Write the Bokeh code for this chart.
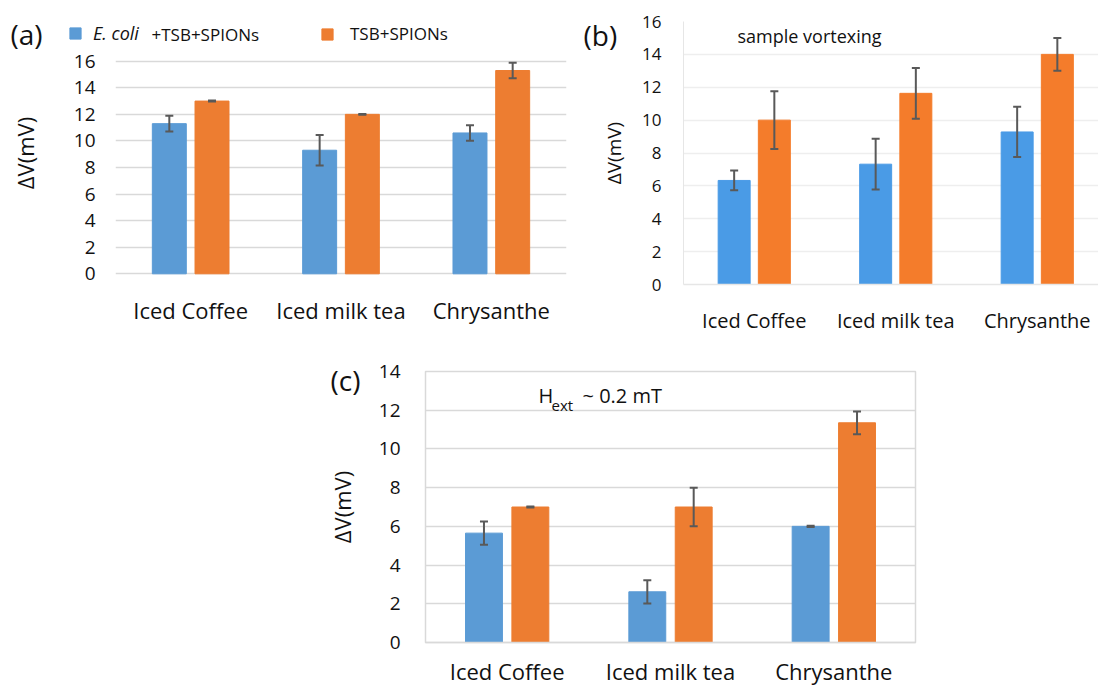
from bokeh.plotting import figure
from bokeh.models import (ColumnDataSource, Whisker, TeeHead, FixedTicker, Label,
                          Legend, LegendItem, Range1d, Spacer, GridBox)
from bokeh.layouts import column, row
from bokeh.embed import file_html
from bokeh.resources import INLINE

# ---------------- data ----------------
categories = ["Iced Coffee", "Iced milk tea", "Chrysanthe"]

a_ecoli = [11.3, 9.3, 10.6]
a_ecoli_err = [0.6, 1.15, 0.58]
a_tsb = [13.0, 12.0, 15.3]
a_tsb_err = [0.04, 0.03, 0.58]

b_ecoli = [6.33, 7.32, 9.28]
b_ecoli_err = [0.6, 1.54, 1.53]
b_tsb = [10.0, 11.63, 14.0]
b_tsb_err = [1.75, 1.54, 1.0]

c_ecoli = [5.65, 2.62, 6.0]
c_ecoli_err = [0.6, 0.6, 0.03]
c_tsb = [7.0, 7.0, 11.35]
c_tsb_err = [0.03, 1.0, 0.59]

a_ticks = [0, 2, 4, 6, 8, 10, 12, 14, 16]
b_ticks = [0, 2, 4, 6, 8, 10, 12, 14, 16]
c_ticks = [0, 2, 4, 6, 8, 10, 12, 14]

y_title = "ΔV(mV)"
legend_ecoli_italic = "E. coli"
legend_ecoli_rest = "+TSB+SPIONs"
legend_tsb = "TSB+SPIONs"
note_b = "sample vortexing"
note_c_main = "H"
note_c_sub = "ext"
note_c_rest = "~ 0.2 mT"

FONT = "Open Sans"
OFF = 0.142
BW = 0.226
ERR_COLOR = "#595959"
TXT = "#111111"


def build(W, H, fl, ft, fw, fh, xr, yr, ticks, e, ee, t, te, col_e, col_t,
          grid_col, xaxis_col, yaxis_col, tick_fs, xlab_fs, ylab_fs,
          tick_so, xlab_so, ylab_so):
    p = figure(width=W, height=H, x_range=Range1d(*xr), y_range=Range1d(*yr),
               output_backend="svg", toolbar_location=None, tools="",
               min_border_left=fl, min_border_right=W - fl - fw,
               min_border_top=ft, min_border_bottom=H - ft - fh)
    p.outline_line_color = None
    idx = list(range(len(categories)))
    src_e = ColumnDataSource(dict(x=[i - OFF for i in idx], top=e,
                                  upper=[v + s for v, s in zip(e, ee)],
                                  lower=[v - s for v, s in zip(e, ee)]))
    src_t = ColumnDataSource(dict(x=[i + OFF for i in idx], top=t,
                                  upper=[v + s for v, s in zip(t, te)],
                                  lower=[v - s for v, s in zip(t, te)]))
    p.vbar(x="x", top="top", bottom=0, width=BW, source=src_e,
           fill_color=col_e, line_color=col_e, line_width=1)
    p.vbar(x="x", top="top", bottom=0, width=BW, source=src_t,
           fill_color=col_t, line_color=col_t, line_width=1)
    for src in (src_e, src_t):
        p.add_layout(Whisker(source=src, base="x", upper="upper", lower="lower",
                             line_color=ERR_COLOR, line_width=2, level="overlay",
                             upper_head=TeeHead(size=8, line_color=ERR_COLOR, line_width=2),
                             lower_head=TeeHead(size=8, line_color=ERR_COLOR, line_width=2)))

    p.xgrid.visible = False
    p.ygrid.ticker = FixedTicker(ticks=ticks)
    p.ygrid.grid_line_color = grid_col
    p.ygrid.grid_line_width = 1.5

    xa = p.xaxis[0]
    xa.ticker = FixedTicker(ticks=idx)
    xa.major_label_overrides = {i: c for i, c in enumerate(categories)}
    xa.major_tick_out = 0
    xa.major_tick_in = 0
    xa.minor_tick_out = 0
    xa.minor_tick_in = 0
    xa.axis_line_color = xaxis_col
    xa.axis_line_width = 1.5
    xa.major_label_text_font = FONT
    xa.major_label_text_font_size = xlab_fs
    xa.major_label_text_color = TXT
    xa.major_label_standoff = xlab_so

    ya = p.yaxis[0]
    ya.ticker = FixedTicker(ticks=ticks)
    ya.major_tick_out = 0
    ya.major_tick_in = 0
    ya.minor_tick_out = 0
    ya.minor_tick_in = 0
    ya.axis_line_color = yaxis_col
    ya.major_label_text_font = FONT
    ya.major_label_text_font_size = tick_fs
    ya.major_label_text_color = TXT
    ya.major_label_standoff = tick_so
    ya.axis_label = y_title
    ya.axis_label_text_font = FONT
    ya.axis_label_text_font_style = "normal"
    ya.axis_label_text_font_size = ylab_fs
    ya.axis_label_text_color = TXT
    ya.axis_label_standoff = ylab_so
    return p


# ---------------- panel (a) ----------------
# frame shares top/bottom with (b) (row alignment); the value scale is set so
# that 0 and 16 fall where the reference puts them
a_px_per_unit = (273.3 - 60.7) / 16
pa = build(575, 345, 115, 21, 451, 263, (-0.5, 2.5),
           (-(284 - 273.3) / a_px_per_unit, 16 + (60.7 - 21) / a_px_per_unit),
           a_ticks, a_ecoli, a_ecoli_err, a_tsb, a_tsb_err,
           "#5b9bd5", "#ed7d31", "#d9d9d9", None, None,
           "19px", "22px", "22px", 20, 10, 31)

# ---------------- panel (b) ----------------
pb = build(523, 345, 108, 21, 415, 263, (-0.5, -0.5 + 415 / 141.5), (0, 16),
           b_ticks, b_ecoli, b_ecoli_err, b_tsb, b_tsb_err,
           "#4a9be6", "#f47c2b", "#eeeeee", "#e6e6e6", "#e6e6e6",
           "17px", "20px", "19px", 22, 22, 12)

# ---------------- panel (c) ----------------
pc = build(630, 343, 125, 26, 490, 273, (-0.5, 2.5), (0, 14),
           c_ticks, c_ecoli, c_ecoli_err, c_tsb, c_tsb_err,
           "#5b9bd5", "#ed7d31", "#d9d9d9", "#d9d9d9", "#d9d9d9",
           "19px", "22px", "22px", 25, 13, 19)
pc.outline_line_color = "#d9d9d9"
pc.outline_line_width = 1.5

base = column(row(pa, pb), row(Spacer(width=300, height=343), pc))

# ---------------- transparent overlay for texts outside the plot frames ----------------
ov = figure(width=1098, height=688, x_range=Range1d(0, 1098), y_range=Range1d(688, 0),
            output_backend="svg", toolbar_location=None, tools="", min_border=0,
            x_axis_location=None, y_axis_location=None,
            background_fill_alpha=0, border_fill_alpha=0, outline_line_color=None)
ov.grid.visible = False


def lab(px, py, text, size, style="normal"):
    ov.add_layout(Label(x=px, y=py, text=text, text_font=FONT, text_font_size=size,
                        text_font_style=style, text_color=TXT,
                        text_align="left", text_baseline="middle"))


lab(10, 33, "(a)", "28px")
lab(583, 34, "(b)", "28px")
lab(330, 379, "(c)", "28px")
lab(151, 34, legend_ecoli_rest, "17px")
lab(737, 35, note_b, "18px")
lab(538, 395, note_c_main, "20px")
lab(551, 404, note_c_sub, "15px")
lab(582, 395, note_c_rest, "20px")

# legend keys: proxy renderers with one NaN point (nothing drawn, but styled)
nan = float("nan")
sw_e = ov.vbar(x=[nan], top=[nan], width=1, fill_color="#5b9bd5", line_color="#5b9bd5")
sw_t = ov.vbar(x=[nan], top=[nan], width=1, fill_color="#ed7d31", line_color="#ed7d31")
common = dict(orientation="horizontal", glyph_width=14, glyph_height=14,
              label_height=14, label_text_font=FONT,
              label_text_color=TXT, padding=0, margin=0, spacing=0,
              border_line_color=None, background_fill_alpha=0)
ov.add_layout(Legend(items=[LegendItem(label=legend_ecoli_italic, renderers=[sw_e])],
                     location=(68, 688 - 45), label_standoff=11,
                     label_text_font_size="18px",
                     label_text_font_style="italic", **common))
ov.add_layout(Legend(items=[LegendItem(label=legend_tsb, renderers=[sw_t])],
                     location=(320, 688 - 45), label_standoff=16,
                     label_text_font_size="17px", **common))

layout = GridBox(children=[(base, 0, 0), (ov, 0, 0)])
open("out.html", "w").write(file_html(layout, INLINE))
